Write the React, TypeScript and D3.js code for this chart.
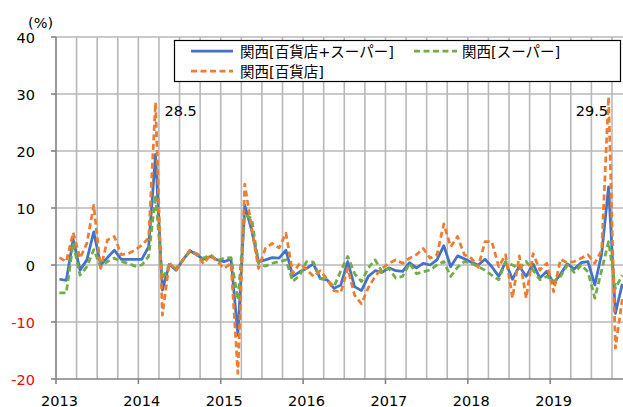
import React from "react";
import * as d3 from "d3";

// Monthly data: Jan 2013 .. Nov 2019 (YoY %)
const yearLabels = ["2013", "2014", "2015", "2016", "2017", "2018", "2019"];
const yTicks = [40, 30, 20, 10, 0, -10, -20];

const seriesNames = ["関西[百貨店+スーパー]", "関西[スーパー]", "関西[百貨店]"];

const totalValues = [
  -2.5, -2.7, 4.5, -0.9, 0.9, 5.8, 0.0, 1.3, 2.6, 1.0, 1.0, 1.0,
  1.0, 3.2, 19.4, -4.4, 0.1, -0.9, 0.9, 2.5, 1.8, 1.0, 1.5, 0.9,
  0.6, 1.0, -12.3, 10.5, 6.1, 0.6, 0.9, 1.3, 1.2, 2.6, -2.0, -1.2,
  -0.6, 0.2, -2.4, -2.6, -4.1, -3.5, 0.6, -3.8, -4.5, -2.0, -1.0, -1.3,
  -0.5, -1.0, -1.1, 0.4, -0.5, 0.3, 0.0, 0.9, 3.4, -0.3, 1.6, 1.1,
  0.5, 0.0, 1.0, -0.3, -2.0, 0.5, -2.5, -0.2, -2.0, 0.2, -2.3, -1.1,
  -3.2, -1.6, 0.2, -0.7, 0.4, 0.6, -3.5, 2.0, 13.7, -8.5, -3.3,
];

const superValues = [
  -4.9, -4.9, 3.8, -1.8, -0.3, 2.7, -0.3, 0.6, 1.2, 0.6, 0.3, -0.2,
  0.0, 1.5, 12.3, -2.5, 0.0, -0.6, 0.9, 2.3, 2.0, 1.2, 1.8, 0.8,
  1.2, 1.3, -6.1, 8.8, 8.2, 0.3, -0.2, 0.3, 0.6, 0.9, -2.9, -1.8,
  0.6, 0.5, -2.3, -2.6, -3.8, -1.0, 1.5, -1.5, -2.9, -0.5, 0.9, -1.2,
  -0.6, -2.3, -2.0, 0.3, -1.5, -1.2, -0.9, 0.0, 0.6, -2.0, -0.4, 0.6,
  0.3, -0.3, -0.9, -1.8, -2.6, 0.6, 0.0, -0.6, 0.6, -0.9, -2.6, -2.0,
  -2.9, -2.0, 0.0, -1.3, 0.0, -1.2, -5.8, -0.9, 4.1, -4.1, -1.8,
];

const deptValues = [
  1.3, 0.6, 5.7, 1.2, 3.8, 10.5, -0.6, 4.4, 5.0, 1.8, 2.0, 2.6,
  3.5, 4.7, 28.5, -8.8, 0.4, -0.9, 0.9, 2.6, 1.9, 0.2, 1.8, 0.6,
  -0.6, 0.3, -19.0, 14.2, 6.5, -0.6, 2.9, 3.8, 3.0, 5.6, -1.5, 0.3,
  -0.8, -2.0, -1.0, -2.5, -4.5, -4.8, -0.6, -5.3, -6.8, -4.0, -2.0, -0.6,
  0.3, 0.9, 0.3, 1.2, 1.8, 2.9, 1.2, 1.8, 7.2, 3.2, 5.0, 1.8,
  1.2, -0.4, 4.1, 4.1, -0.3, 1.8, -5.8, 1.6, -5.8, 2.0, -0.9, 0.3,
  -4.7, 1.0, 0.4, 0.6, 1.2, 1.8, 0.3, 2.6, 29.5, -14.6, -6.0,
];

const peakLabels = [
  { index: 14, text: "28.5" },
  { index: 80, text: "29.5" },
];

const W = 623;
const H = 407;
const monthsInAxis = 84;
const plotLeft = 56;
const monthWidth = 6.864;
const plotTop = 37;
const plotBottom = 379;

const COLORS = ["#4472C4", "#70AD47", "#ED7D31"];
const NUM_FONT = "'DejaVu Sans', Verdana, sans-serif";
const JP_FONT = "'DejaVu Sans', 'Noto Sans CJK JP', sans-serif";
const DASH = "6,3.5";

export default function App() {
  const x = d3
    .scaleLinear()
    .domain([0, monthsInAxis])
    .range([plotLeft, plotLeft + monthsInAxis * monthWidth]);
  const y = d3.scaleLinear().domain([-20, 40]).range([plotBottom, plotTop]);

  const line = d3
    .line<number>()
    .x((_, i) => x(i + 0.5))
    .y((d) => y(d));

  const quarterLines = d3.range(3, monthsInAxis + 1, 3);
  const yearBounds = d3.range(0, monthsInAxis + 1, 12);
  const gridColor = "#b8b8b8";
  const axisColor = "#828282";
  const rightEdge = x(monthsInAxis);

  const series = [
    { values: totalValues, color: COLORS[0], dash: undefined as string | undefined },
    { values: superValues, color: COLORS[1], dash: DASH },
    { values: deptValues, color: COLORS[2], dash: DASH },
  ];

  return (
    <svg
      width={W}
      height={H}
      viewBox={`0 0 ${W} ${H}`}
      style={{ position: "absolute", left: 0, top: 0, background: "#fff", overflow: "hidden" }}
    >
      <rect x={0} y={0} width={W} height={H} fill="#fff" />
      {yTicks
        .filter((t) => t !== -20)
        .map((t) => (
          <line key={"h" + t} x1={plotLeft} x2={rightEdge} y1={y(t)} y2={y(t)} stroke={gridColor} strokeWidth={1.6} />
        ))}
      {quarterLines.map((k) => (
        <line key={"v" + k} x1={x(k)} x2={x(k)} y1={plotTop} y2={plotBottom} stroke={gridColor} strokeWidth={1.6} />
      ))}
      <line x1={plotLeft} x2={plotLeft} y1={plotTop} y2={plotBottom} stroke={axisColor} strokeWidth={1.6} />
      <line x1={plotLeft} x2={rightEdge} y1={plotBottom} y2={plotBottom} stroke={axisColor} strokeWidth={1.6} />
      {yTicks.map((t) => (
        <line key={"yt" + t} x1={plotLeft - 5} x2={plotLeft} y1={y(t)} y2={y(t)} stroke={axisColor} strokeWidth={1.6} />
      ))}
      {yearBounds.map((k) => (
        <line key={"xt" + k} x1={x(k)} x2={x(k)} y1={plotBottom} y2={plotBottom + 5} stroke={axisColor} strokeWidth={1.6} />
      ))}
      {yTicks.map((t) => (
        <text
          key={"yl" + t}
          x={35}
          y={y(t) + 5.5}
          textAnchor="end"
          fontFamily={NUM_FONT}
          fontSize={14.5}
          fill={t < 0 ? "#FF0000" : "#000"}
        >
          {t}
        </text>
      ))}
      <text x={28} y={28} fontFamily={NUM_FONT} fontSize={14.5} fill="#000">
        (%)
      </text>
      {yearLabels.map((lab, k) => (
        <text
          key={"xl" + lab}
          x={x(12 * k + 0.5)}
          y={405.5}
          textAnchor="middle"
          fontFamily={NUM_FONT}
          fontSize={14.5}
          fill="#000"
        >
          {lab}
        </text>
      ))}
      {series.map((s, i) => (
        <path
          key={"s" + i}
          d={line(s.values) || ""}
          fill="none"
          stroke={s.color}
          strokeWidth={2.75}
          strokeDasharray={s.dash}
          strokeLinejoin="round"
        />
      ))}
      <text x={x(peakLabels[0].index + 0.5) + 9} y={115.5} fontFamily={NUM_FONT} fontSize={14.5} fill="#000">
        {peakLabels[0].text}
      </text>
      <text
        x={x(peakLabels[1].index + 0.5) - 0.5}
        y={115.5}
        textAnchor="end"
        fontFamily={NUM_FONT}
        fontSize={14.5}
        fill="#000"
      >
        {peakLabels[1].text}
      </text>
      <rect x={174.5} y={40.5} width={446} height={41} fill="#fff" stroke="#000" strokeWidth={1.2} />
      <line x1={191} x2={233} y1={51} y2={51} stroke={COLORS[0]} strokeWidth={2.75} />
      <text x={240} y={56.5} fontFamily={JP_FONT} fontSize={14.5} fill="#000">
        {seriesNames[0]}
      </text>
      <line x1={414} x2={457} y1={51} y2={51} stroke={COLORS[1]} strokeWidth={2.75} strokeDasharray={DASH} />
      <text x={462} y={56.5} fontFamily={JP_FONT} fontSize={14.5} fill="#000">
        {seriesNames[1]}
      </text>
      <line x1={191} x2={233} y1={71} y2={71} stroke={COLORS[2]} strokeWidth={2.75} strokeDasharray={DASH} />
      <text x={240} y={76.5} fontFamily={JP_FONT} fontSize={14.5} fill="#000">
        {seriesNames[2]}
      </text>
    </svg>
  );
}
